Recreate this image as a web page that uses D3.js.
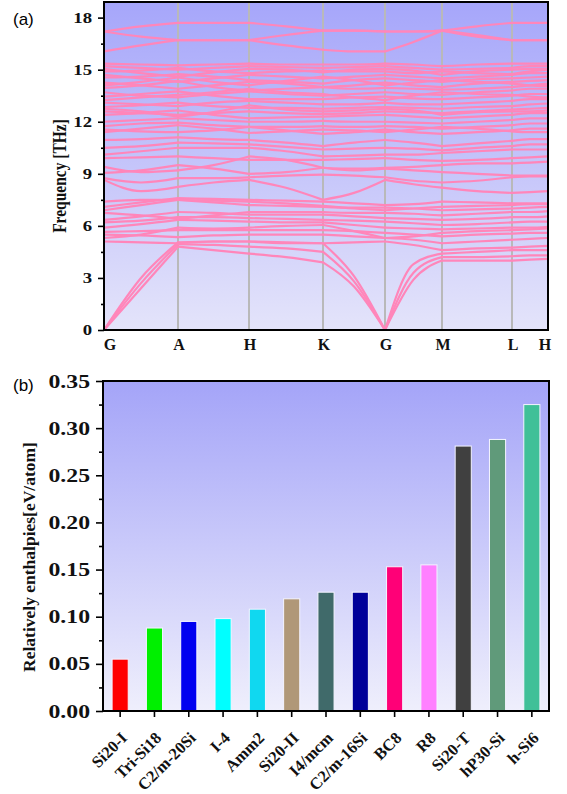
<!DOCTYPE html>
<html>
<head>
<meta charset="utf-8">
<script src="https://cdn.jsdelivr.net/npm/d3@7"></script>
<style>
  body { margin: 0; background: #fff; }
  svg { display: block; }
  .serif { font-family: "Liberation Serif", "Times New Roman", serif; font-weight: bold; }
</style>
</head>
<body>
<svg id="fig" width="567" height="794"></svg>
<script>
// ---- panel (a): phonon dispersion ----
var kLabels = ["G", "A", "H", "K", "G", "M", "L", "H"];
var kTicks = [0, 74, 145, 219, 281, 338, 408, 444];
// high-symmetry points plus one read-off point in each segment
var kSamples = [0, 37, 74, 109.5, 145, 182, 219, 250, 281, 309.5, 338, 373, 408, 426, 444];
var freqTicks = [0, 3, 6, 9, 12, 15, 18];
var freqMinor = [1.5, 4.5, 7.5, 10.5, 13.5, 16.5];

var bands = [
  // acoustic
  [0, 2.4, 4.8, 4.6, 4.4, 4.2, 3.9, 2.5, 0, 2.9, 4.0, 4.0, 4.0, 4.05, 4.1],
  [0, 2.7, 4.95, 4.9, 4.8, 4.7, 4.5, 2.8, 0, 3.3, 4.2, 4.2, 4.25, 4.3, 4.3],
  [0, 3.0, 5.05, 5.1, 5.1, 5.0, 5.0, 3.1, 0, 3.8, 4.4, 4.5, 4.6, 4.6, 4.6],
  // low optical
  [5.1, 5.05, 5.0, 5.1, 5.1, 5.05, 5.0, 5.05, 5.1, 4.9, 4.6, 4.7, 4.75, 4.8, 4.85],
  [5.3, 5.5, 5.9, 5.85, 5.9, 6.0, 6.05, 5.7, 5.3, 5.4, 5.6, 5.7, 5.75, 5.8, 5.85],
  [5.5, 5.45, 5.35, 5.45, 5.5, 5.5, 5.5, 5.4, 5.3, 5.2, 5.0, 5.1, 5.2, 5.25, 5.3],
  [5.65, 5.7, 5.75, 5.75, 5.75, 5.75, 5.75, 5.7, 5.6, 5.5, 5.4, 5.5, 5.55, 5.6, 5.6],
  [5.9, 6.1, 6.35, 6.3, 6.25, 6.2, 6.2, 6.05, 5.9, 5.85, 5.8, 5.85, 5.9, 5.9, 5.95],
  [6.2, 6.3, 6.5, 6.5, 6.45, 6.4, 6.35, 6.3, 6.25, 6.15, 6.05, 6.1, 6.2, 6.25, 6.25],
  [6.35, 6.55, 6.8, 6.75, 6.65, 6.65, 6.65, 6.55, 6.45, 6.4, 6.35, 6.4, 6.5, 6.5, 6.55],
  [6.75, 6.6, 6.4, 6.6, 6.8, 6.8, 6.8, 6.75, 6.75, 6.7, 6.6, 6.7, 6.8, 6.8, 6.85],
  [6.9, 7.2, 7.5, 7.35, 7.2, 7.15, 7.1, 7.05, 7.05, 7.0, 6.9, 6.95, 7.0, 7.05, 7.1],
  [7.1, 7.35, 7.6, 7.55, 7.5, 7.45, 7.4, 7.3, 7.2, 7.25, 7.4, 7.35, 7.3, 7.3, 7.3],
  [7.4, 7.5, 7.5, 7.45, 7.4, 7.3, 7.15, 7.0, 6.9, 7.0, 7.1, 7.15, 7.2, 7.25, 7.25],
  // middle group
  [8.65, 8.0, 8.25, 8.5, 8.65, 8.2, 7.5, 7.9, 8.65, 8.4, 8.2, 8.0, 7.9, 7.95, 8.0],
  [8.75, 8.5, 8.75, 8.75, 8.8, 8.9, 8.95, 8.9, 8.8, 8.6, 8.5, 8.6, 8.8, 8.85, 8.85],
  [9.05, 9.2, 9.5, 9.3, 9.0, 9.1, 9.35, 9.2, 9.3, 9.2, 9.1, 9.0, 8.9, 8.9, 8.9],
  [9.4, 9.1, 9.2, 9.5, 10.0, 9.8, 9.35, 9.3, 9.35, 9.4, 9.5, 9.6, 9.6, 9.65, 9.7],
  [9.9, 9.95, 10.0, 9.9, 9.8, 9.8, 9.8, 9.85, 9.9, 9.8, 9.75, 9.8, 9.9, 9.95, 10.0],
  [10.1, 10.3, 10.5, 10.5, 10.5, 10.3, 10.0, 10.05, 10.1, 10.1, 10.2, 10.3, 10.4, 10.4, 10.4],
  [10.5, 10.6, 10.8, 10.75, 10.7, 10.55, 10.4, 10.45, 10.5, 10.45, 10.35, 10.5, 10.6, 10.7, 10.7],
  [10.95, 11.0, 11.1, 11.0, 10.95, 10.8, 10.6, 10.8, 10.95, 10.8, 10.6, 10.75, 10.9, 11.0, 11.0],
  // dense upper group
  [11.4, 11.6, 11.8, 11.6, 11.35, 11.45, 11.55, 11.5, 11.4, 11.55, 11.7, 11.6, 11.45, 11.4, 11.4],
  [11.55, 11.45, 11.4, 11.5, 11.7, 11.5, 11.3, 11.4, 11.55, 11.4, 11.3, 11.4, 11.5, 11.6, 11.6],
  [11.75, 11.9, 11.95, 11.8, 11.7, 11.7, 11.75, 11.7, 11.75, 11.7, 11.6, 11.7, 11.8, 11.9, 11.9],
  [12.0, 12.1, 12.2, 12.1, 12.0, 12.0, 12.05, 12.0, 12.0, 11.95, 11.9, 12.0, 12.1, 12.2, 12.2],
  [12.4, 12.5, 12.65, 12.4, 12.2, 12.25, 12.3, 12.35, 12.4, 12.3, 12.2, 12.3, 12.4, 12.5, 12.5],
  [12.6, 12.5, 12.4, 12.5, 12.6, 12.5, 12.45, 12.5, 12.6, 12.55, 12.5, 12.6, 12.7, 12.75, 12.8],
  [12.75, 12.6, 12.3, 12.55, 12.95, 12.7, 12.6, 12.65, 12.75, 12.65, 12.4, 12.55, 12.6, 12.6, 12.65],
  [12.85, 12.95, 13.1, 12.9, 12.8, 12.8, 12.75, 12.8, 12.85, 12.8, 12.75, 12.85, 12.9, 13.0, 13.05],
  [13.1, 13.0, 12.9, 13.1, 13.2, 13.1, 13.0, 13.0, 13.1, 13.0, 13.0, 13.1, 13.2, 13.3, 13.3],
  [13.25, 13.4, 13.55, 13.7, 13.9, 13.7, 13.6, 13.4, 13.25, 13.5, 13.7, 13.6, 13.55, 13.45, 13.4],
  [13.45, 13.6, 13.75, 13.5, 13.3, 13.3, 13.3, 13.4, 13.45, 13.35, 13.3, 13.4, 13.5, 13.6, 13.6],
  [13.7, 13.5, 13.4, 13.6, 13.75, 13.6, 13.5, 13.6, 13.7, 13.6, 13.55, 13.7, 13.8, 13.9, 13.9],
  [13.95, 14.1, 14.35, 14.0, 13.8, 13.9, 14.0, 13.9, 13.95, 13.9, 13.85, 13.9, 14.0, 14.1, 14.2],
  [14.1, 14.3, 14.55, 14.3, 14.1, 14.35, 14.6, 14.4, 14.1, 14.25, 14.4, 14.3, 14.2, 14.1, 14.05],
  [14.25, 14.1, 13.9, 14.1, 14.3, 14.2, 14.0, 14.1, 14.25, 14.1, 14.0, 14.2, 14.3, 14.35, 14.4],
  [14.55, 14.6, 14.75, 14.6, 14.4, 14.3, 14.2, 14.4, 14.5, 14.4, 14.3, 14.45, 14.5, 14.55, 14.6],
  [14.7, 14.5, 14.3, 14.5, 14.7, 14.6, 14.5, 14.6, 14.7, 14.6, 14.5, 14.6, 14.7, 14.8, 14.8],
  [14.9, 14.95, 15.1, 14.9, 14.8, 14.9, 14.95, 14.9, 14.9, 14.8, 14.9, 14.8, 14.75, 14.9, 15.0],
  [15.05, 14.8, 14.6, 14.85, 15.05, 15.0, 14.85, 15.0, 15.05, 14.95, 14.7, 14.9, 15.0, 15.05, 15.05],
  [15.2, 15.1, 15.0, 15.1, 15.2, 15.15, 15.1, 15.15, 15.2, 15.1, 15.0, 15.05, 15.1, 15.2, 15.2],
  [15.35, 15.3, 15.25, 15.3, 15.35, 15.3, 15.3, 15.3, 15.35, 15.3, 15.2, 15.3, 15.35, 15.35, 15.35],
  // top group
  [16.05, 16.4, 16.7, 16.7, 16.7, 16.4, 16.15, 16.05, 16.05, 16.6, 17.25, 16.9, 16.7, 16.7, 16.7],
  [17.2, 16.9, 16.7, 16.7, 16.7, 17.0, 17.25, 17.25, 17.2, 17.2, 17.25, 17.0, 16.7, 16.7, 16.7],
  [17.2, 17.5, 17.7, 17.7, 17.7, 17.5, 17.25, 17.25, 17.2, 17.2, 17.25, 17.5, 17.7, 17.7, 17.7]
];

// ---- panel (b): relative enthalpies ----
var phases = ["Si20-I", "Tri-Si18", "C2/m-20Si", "I-4", "Amm2", "Si20-II", "I4/mcm",
              "C2/m-16Si", "BC8", "R8", "Si20-T", "hP30-Si", "h-Si6"];
var enthalpies = [0.055, 0.088, 0.095, 0.098, 0.108, 0.119, 0.126, 0.126, 0.153, 0.155, 0.281, 0.288, 0.325];
var barColors = ["#ff0000", "#00f000", "#0000f0", "#00ffff", "#10d8f0", "#b09878", "#406a6a",
                 "#000099", "#ff0077", "#ff80ff", "#404040", "#609a7a", "#40c098"];
var enthalpyTicks = [0, 0.05, 0.10, 0.15, 0.20, 0.25, 0.30, 0.35];
var enthalpyMinor = [0.025, 0.075, 0.125, 0.175, 0.225, 0.275, 0.325];

var svg = d3.select("#fig");
var defs = svg.append("defs");

function addGradient(id, top, bottom) {
  var g = defs.append("linearGradient")
      .attr("id", id)
      .attr("x1", 0).attr("y1", 0).attr("x2", 0).attr("y2", 1);
  g.append("stop").attr("offset", "0%").attr("stop-color", top);
  g.append("stop").attr("offset", "100%").attr("stop-color", bottom);
}
addGradient("bgA", "#a6a6fa", "#e4e4fa");
addGradient("bgB", "#a4a4f8", "#efeffc");

function styleAxis(g) {
  g.select(".domain").remove();
  g.selectAll("line").attr("stroke", "#000").attr("stroke-width", 1.6);
}

// tick numbers in the original are drawn wider than normal
function wideLabels(g, size, gap) {
  g.selectAll("text")
      .attr("class", "serif")
      .attr("font-size", size)
      .attr("fill", "#111")
      .attr("x", -gap / 1.25)
      .attr("transform", "scale(1.25,1)");
}

// ===== (a) =====
var ax = { left: 104, right: 548, top: 2, bottom: 330 };

var xA = d3.scaleLinear().domain([0, 444]).range([ax.left, ax.right]);
var yA = d3.scaleLinear().domain([0, 18.9]).range([ax.bottom, ax.top]);

svg.append("rect")
    .attr("x", ax.left).attr("y", ax.top)
    .attr("width", ax.right - ax.left).attr("height", ax.bottom - ax.top)
    .attr("fill", "url(#bgA)");

defs.append("clipPath").attr("id", "clipA")
  .append("rect")
    .attr("x", ax.left).attr("y", ax.top)
    .attr("width", ax.right - ax.left).attr("height", ax.bottom - ax.top);

svg.append("g")
  .selectAll("line")
  .data(kTicks.slice(1, -1))
  .enter().append("line")
    .attr("x1", d => xA(d)).attr("x2", d => xA(d))
    .attr("y1", ax.top).attr("y2", ax.bottom)
    .attr("stroke", "#b9b9b9")
    .attr("stroke-width", 2);

// each band is drawn segment by segment so kinks at the high-symmetry points stay sharp
var segments = [];
bands.forEach(function(b) {
  for (var s = 0; s < kTicks.length - 1; s++) {
    segments.push([0, 1, 2].map(j => [kSamples[2 * s + j], b[2 * s + j]]));
  }
});

var bandLine = d3.line()
    .x(d => xA(d[0]))
    .y(d => yA(d[1]))
    .curve(d3.curveMonotoneX);

svg.append("g")
    .attr("clip-path", "url(#clipA)")
  .selectAll("path")
  .data(segments)
  .enter().append("path")
    .attr("d", bandLine)
    .attr("fill", "none")
    .attr("stroke", "#ff86ba")
    .attr("stroke-width", 2.2)
    .attr("stroke-linecap", "round");

svg.append("rect")
    .attr("x", ax.left).attr("y", ax.top)
    .attr("width", ax.right - ax.left).attr("height", ax.bottom - ax.top)
    .attr("fill", "none")
    .attr("stroke", "#000")
    .attr("stroke-width", 2);

svg.append("g")
    .attr("transform", "translate(" + ax.left + ",0)")
    .call(d3.axisLeft(yA).tickValues(freqTicks).tickSize(6).tickPadding(4))
    .call(styleAxis)
    .call(g => wideLabels(g, 15, 12));

svg.append("g")
    .attr("transform", "translate(" + ax.left + ",0)")
    .call(d3.axisLeft(yA).tickValues(freqMinor).tickSize(3).tickFormat(""))
    .call(styleAxis);

svg.append("g")
  .selectAll("text")
  .data(kLabels)
  .enter().append("text")
    .attr("class", "serif")
    .attr("x", (d, i) => xA(kTicks[i]) + (i === 0 ? 6 : i === kLabels.length - 1 ? -3 : 1))
    .attr("y", 350)
    .attr("text-anchor", "middle")
    .attr("font-size", 16)
    .attr("fill", "#111")
    .text(d => d);

svg.append("text")
    .attr("class", "serif")
    .attr("transform", "translate(66,176) rotate(-90) scale(1,1.2)")
    .attr("text-anchor", "middle")
    .attr("font-size", 15.5)
    .attr("fill", "#111")
    .text("Frequency [THz]");

svg.append("text")
    .attr("x", 13).attr("y", 25)
    .attr("font-family", "Liberation Sans, Arial, sans-serif")
    .attr("font-size", 17)
    .text("(a)");

// ===== (b) =====
var bx = { left: 103, right: 549, top: 381, bottom: 711 };

var xB = d3.scaleBand()
    .domain(phases)
    .range([bx.left, bx.right])
    .paddingInner(0.53)
    .paddingOuter(0.265);
var yB = d3.scaleLinear().domain([0, 0.35]).range([bx.bottom, bx.top]);

svg.append("rect")
    .attr("x", bx.left).attr("y", bx.top)
    .attr("width", bx.right - bx.left).attr("height", bx.bottom - bx.top)
    .attr("fill", "url(#bgB)");

svg.append("g")
  .selectAll("rect")
  .data(enthalpies)
  .enter().append("rect")
    .attr("x", (d, i) => xB(phases[i]))
    .attr("y", d => yB(d))
    .attr("width", xB.bandwidth())
    .attr("height", d => yB(0) - yB(d))
    .attr("fill", (d, i) => barColors[i])
    .attr("stroke", "#f4f4ff")
    .attr("stroke-width", 1);

svg.append("rect")
    .attr("x", bx.left).attr("y", bx.top)
    .attr("width", bx.right - bx.left).attr("height", bx.bottom - bx.top)
    .attr("fill", "none")
    .attr("stroke", "#000")
    .attr("stroke-width", 2);

svg.append("g")
    .attr("transform", "translate(" + bx.left + ",0)")
    .call(d3.axisLeft(yB).tickValues(enthalpyTicks).tickSize(7).tickPadding(5).tickFormat(d3.format(".2f")))
    .call(styleAxis)
    .call(g => wideLabels(g, 19, 13));

svg.append("g")
    .attr("transform", "translate(" + bx.left + ",0)")
    .call(d3.axisLeft(yB).tickValues(enthalpyMinor).tickSize(4).tickFormat(""))
    .call(styleAxis);

var xAxisB = svg.append("g")
    .attr("transform", "translate(0," + bx.bottom + ")")
    .call(d3.axisBottom(xB).tickSize(6))
    .call(styleAxis);

xAxisB.selectAll("text")
    .attr("class", "serif")
    .attr("font-size", 16.5)
    .attr("fill", "#111")
    .attr("text-anchor", "end")
    .attr("x", 0).attr("y", 0).attr("dy", 0)
    .attr("transform", "translate(8,28) rotate(-45)");

svg.append("text")
    .attr("class", "serif")
    .attr("transform", "translate(35,557) rotate(-90)")
    .attr("text-anchor", "middle")
    .attr("font-size", 17.5)
    .attr("fill", "#111")
    .text("Relatively enthalpies[eV/atom]");

svg.append("text")
    .attr("x", 13).attr("y", 391)
    .attr("font-family", "Liberation Sans, Arial, sans-serif")
    .attr("font-size", 17)
    .text("(b)");
</script>
</body>
</html>
